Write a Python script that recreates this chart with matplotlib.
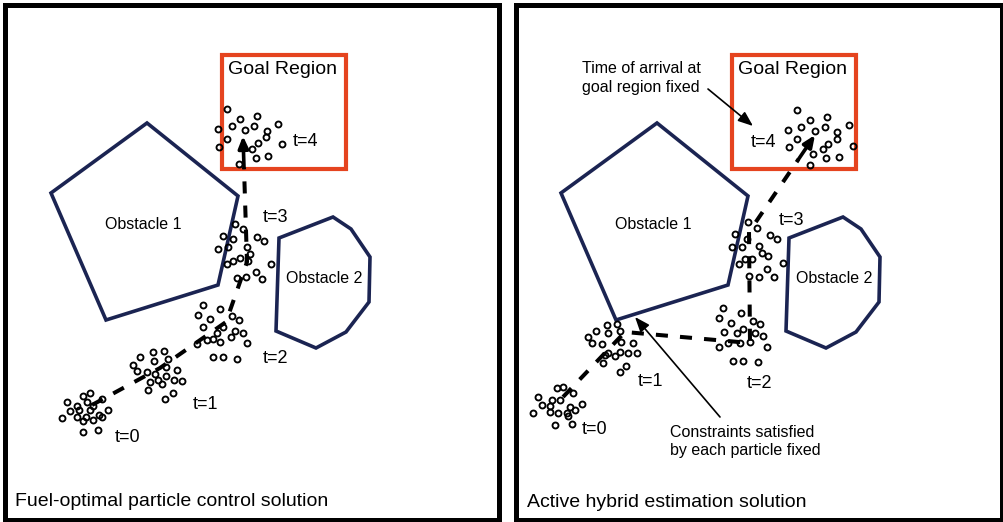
import matplotlib
matplotlib.use("Agg")
import matplotlib.pyplot as plt
from matplotlib.patches import Polygon, Rectangle

plt.rcParams['font.family'] = ['Liberation Sans', 'DejaVu Sans']

# ---------------------------------------------------------------
# Workspace (pixel units inside each panel, y grows downwards)
# ---------------------------------------------------------------
obstacle1 = [(51, 193), (147, 123), (238, 196), (218, 285), (106, 320)]
obstacle2 = [(279, 238), (333, 217), (351, 229), (370, 257), (369, 302),
             (346, 332), (316, 348), (276, 331)]
goal_region = [(222.5, 54.5), (346, 54.5), (346, 169), (222.5, 169)]

time_labels = ['t=0', 't=1', 't=2', 't=3', 't=4']

# Particle clouds - fuel-optimal particle control solution
fuel_t0 = [(90, 393), (83, 396), (67, 402), (77, 406), (87, 402), (102, 399),
           (70, 411), (79, 410), (90, 410), (93, 406), (99, 415), (108, 410),
           (62, 418), (77, 417), (86, 417), (93, 420), (102, 417), (83, 432),
           (98, 430), (83, 421)]
fuel_t1 = [(153, 352), (164, 351), (140, 357), (154, 361), (168, 359), (133, 365),
           (137, 371), (147, 372), (166, 367), (177, 370), (155, 374), (166, 376),
           (150, 382), (158, 380), (162, 384), (174, 380), (182, 381), (148, 390),
           (173, 393), (165, 399)]
fuel_t2 = [(203, 305), (220, 309), (198, 315), (232, 316), (210, 319), (239, 320),
           (203, 327), (223, 327), (235, 331), (243, 333), (217, 333), (213, 339),
           (231, 337), (207, 340), (220, 342), (197, 344), (247, 343), (213, 357),
           (223, 357), (237, 359)]
fuel_t3 = [(235, 224), (243, 229), (223, 236), (257, 237), (264, 241), (233, 239),
           (218, 249), (228, 247), (247, 247), (250, 254), (227, 264), (233, 261),
           (240, 258), (248, 261), (271, 264), (256, 272), (262, 279), (237, 278),
           (246, 277)]
fuel_t4 = [(227, 109), (240, 119), (257, 116), (232, 126), (254, 126), (278, 124),
           (218, 129), (245, 130), (267, 131), (227, 139), (266, 137), (258, 143),
           (219, 147), (252, 149), (282, 144), (256, 158), (268, 156), (239, 164)]
fuel_mean_path = [(92, 405), (160, 368), (226, 322), (247, 262), (243, 136)]

# Particle clouds - active hybrid estimation solution
active_t0 = [(47, 388), (53, 387), (63, 393), (28, 397), (42, 400), (50, 400),
             (32, 405), (40, 406), (60, 407), (72, 404), (23, 413), (40, 412),
             (48, 413), (57, 413), (65, 410), (58, 416), (45, 425), (62, 424)]
active_t1 = [(97, 325), (107, 324), (86, 331), (98, 333), (110, 331), (78, 337),
             (82, 343), (92, 344), (111, 342), (123, 343), (98, 353), (110, 352),
             (118, 353), (127, 353), (95, 355), (105, 356), (93, 363), (116, 366),
             (110, 372)]
active_t2 = [(213, 308), (231, 313), (209, 318), (221, 323), (243, 321), (250, 324),
             (214, 332), (227, 333), (233, 329), (245, 333), (253, 336), (240, 342),
             (218, 343), (209, 347), (230, 343), (257, 347), (223, 361), (233, 361),
             (248, 362)]
active_t3 = [(238, 222), (247, 228), (225, 234), (237, 239), (260, 235), (267, 239),
             (222, 247), (232, 247), (249, 246), (252, 253), (258, 256), (235, 259),
             (242, 259), (229, 264), (273, 263), (257, 269), (239, 276), (249, 277),
             (264, 277)]
active_t4 = [(287, 110), (300, 120), (317, 117), (278, 130), (291, 127), (305, 131),
             (315, 127), (327, 132), (339, 125), (287, 139), (279, 147), (318, 144),
             (327, 139), (313, 149), (343, 146), (303, 154), (316, 158), (329, 157),
             (300, 165)]
active_mean_path = [(53, 397), (115, 332), (240, 343), (239, 232), (305, 135)]

NAVY = '#1b2452'
GOAL_RED = '#e5441f'

W, H = 1004, 522
fig = plt.figure(figsize=(W / 100, H / 100), dpi=100)
fig.patch.set_facecolor('white')

PANEL_SHIFT = 510


def make_panel(x0, width):
    ax = fig.add_axes([x0 / W, 0, width / W, 1])
    ax.set_xlim(0, width)
    ax.set_ylim(H, 0)
    ax.axis('off')
    return ax


def draw_workspace(ax):
    ax.add_patch(Polygon(obstacle1, closed=True, fill=False, ec=NAVY, lw=2.6,
                         joinstyle='miter'))
    ax.add_patch(Polygon(obstacle2, closed=True, fill=False, ec=NAVY, lw=2.6,
                         joinstyle='miter'))
    ax.add_patch(Polygon(goal_region, closed=True, fill=False, ec=GOAL_RED, lw=3.0,
                         joinstyle='miter'))
    ax.text(228, 74, 'Goal Region', fontsize=14, va='baseline', ha='left')
    ax.text(105, 229, 'Obstacle 1', fontsize=11.5, va='baseline', ha='left')
    ax.text(286, 283, 'Obstacle 2', fontsize=11.5, va='baseline', ha='left')


def draw_particles(ax, clouds, path):
    xs, ys = zip(*path)
    head_base = (xs[-1] - 0.25 * (xs[-1] - xs[-2]),
                 ys[-1] - 0.25 * (ys[-1] - ys[-2]))
    ax.plot(xs[:-1] + (head_base[0],), ys[:-1] + (head_base[1],),
            color='black', lw=2.9, linestyle=(0, (3.0, 3.0)),
            dash_capstyle='butt', solid_joinstyle='miter', zorder=3)
    ax.annotate('', xy=path[-1], xytext=head_base,
                arrowprops=dict(arrowstyle='-|>,head_length=0.7,head_width=0.3',
                                color='black', lw=2.6, mutation_scale=10,
                                shrinkA=0, shrinkB=0),
                zorder=4)
    for cloud in clouds:
        cx, cy = zip(*cloud)
        ax.plot(cx, cy, linestyle='none', marker='o', ms=4.3, mew=1.35,
                mfc='none', mec='black', zorder=5)


def draw_frame(ax, x0, y0, x1, y1):
    ax.add_patch(Rectangle((x0, y0), x1 - x0, y1 - y0, fill=False, ec='black',
                           lw=3.6, joinstyle='miter', clip_on=False))


# Left panel: fuel-optimal particle control
axL = make_panel(0, PANEL_SHIFT)
draw_frame(axL, 5.5, 4.5, 499.5, 520)
draw_workspace(axL)
draw_particles(axL, [fuel_t0, fuel_t1, fuel_t2, fuel_t3, fuel_t4], fuel_mean_path)
for lab, (tx, ty) in zip(time_labels, [(115, 442), (193, 409), (263, 363),
                                       (263, 222), (293, 146)]):
    axL.text(tx, ty, lab, fontsize=13, va='baseline', ha='left')
axL.text(15, 506, 'Fuel-optimal particle control solution', fontsize=14,
         va='baseline', ha='left')

# Right panel: active hybrid estimation
axR = make_panel(PANEL_SHIFT, W - PANEL_SHIFT)
draw_frame(axR, 6.5, 4.5, 492, 520)
draw_workspace(axR)
draw_particles(axR, [active_t0, active_t1, active_t2, active_t3, active_t4],
               active_mean_path)
for lab, (tx, ty) in zip(time_labels, [(72, 434), (128, 386), (237, 388),
                                       (269, 225), (241, 147)]):
    axR.text(tx, ty, lab, fontsize=13, va='baseline', ha='left')
axR.text(17, 507, 'Active hybrid estimation solution', fontsize=14,
         va='baseline', ha='left')

axR.text(72, 73, 'Time of arrival at', fontsize=11.5, va='baseline', ha='left')
axR.text(72, 92, 'goal region fixed', fontsize=11.5, va='baseline', ha='left')
axR.annotate('', xy=(243, 126), xytext=(198, 89),
             arrowprops=dict(arrowstyle='-|>,head_length=0.9,head_width=0.35',
                             color='black', lw=1.2, mutation_scale=10,
                             shrinkA=0, shrinkB=0))

axR.text(160, 437, 'Constraints satisfied', fontsize=11.5, va='baseline', ha='left')
axR.text(160, 455, 'by each particle fixed', fontsize=11.5, va='baseline', ha='left')
axR.annotate('', xy=(125, 317), xytext=(210, 417),
             arrowprops=dict(arrowstyle='-|>,head_length=0.9,head_width=0.35',
                             color='black', lw=1.2, mutation_scale=10,
                             shrinkA=0, shrinkB=0))

fig.savefig('out.png', dpi=100, facecolor='white')
